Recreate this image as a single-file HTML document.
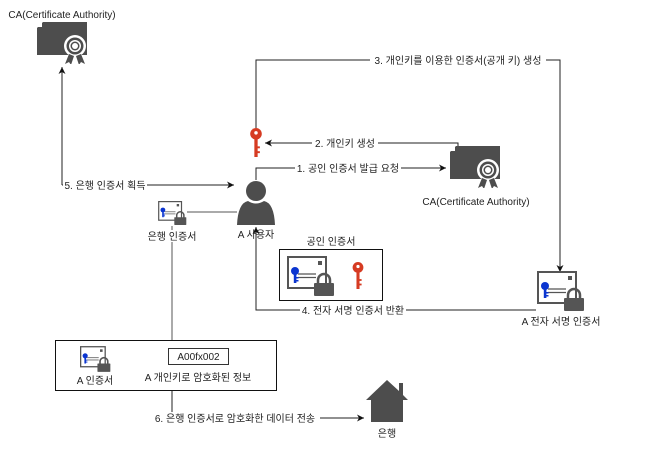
<!DOCTYPE html>
<html><head><meta charset="utf-8"><style>
html,body{margin:0;padding:0;background:#fff;}
svg{display:block;font-family:"Liberation Sans","Noto Sans CJK KR",sans-serif;}
text{font-size:10px;fill:#222;}
.sm{font-size:10px;}
</style></head><body>
<svg width="649" height="452" viewBox="0 0 649 452" xmlns="http://www.w3.org/2000/svg">
<defs>
<symbol id="ca" viewBox="0 0 50 42">
<path d="M6 0 H50 V33 H0 V6 Z" fill="#4d4d4d"/>
<path d="M0 5 L5 0 V5 Z" fill="#fff"/>
<circle cx="38" cy="24" r="11" fill="#fff"/>
<circle cx="38" cy="24" r="8.5" fill="#4d4d4d"/>
<circle cx="38" cy="24" r="6" fill="#fff"/>
<circle cx="38" cy="24" r="4.5" fill="#4d4d4d"/>
<circle cx="38" cy="24" r="3" fill="#fff"/>
<path d="M32 32 L28 42 L32 40 L34 43 L37 34 Z M44 32 L48 42 L44 40 L42 43 L39 34 Z" fill="#4d4d4d"/>
</symbol>
<symbol id="cert" viewBox="0 0 48 40">
<rect x="1" y="1" width="38" height="31" fill="#fff" stroke="#555" stroke-width="2"/>
<rect x="31" y="5" width="4" height="4" fill="#555"/>
<line x1="11" y1="18" x2="29" y2="18" stroke="#555" stroke-width="1.2"/>
<line x1="11" y1="21.5" x2="29" y2="21.5" stroke="#555" stroke-width="1.2"/>
<circle cx="8" cy="15" r="4" fill="#0b35d0"/>
<rect x="6.8" y="17" width="2.6" height="10" fill="#0b35d0"/>
<rect x="9" y="21" width="2.5" height="1.5" fill="#0b35d0"/>
<rect x="9" y="24" width="2.5" height="1.5" fill="#0b35d0"/>
<path d="M31 28 V24 A6 6 0 0 1 43 24 V28" fill="none" stroke="#555" stroke-width="2.5"/>
<rect x="27" y="27" width="20" height="13" rx="1" fill="#555"/>
</symbol>
<symbol id="key" viewBox="0 0 12 30">
<circle cx="6" cy="6" r="6" fill="#d63b22"/>
<circle cx="6" cy="5" r="1.8" fill="#fff"/>
<rect x="4.3" y="10" width="3.4" height="20" fill="#d63b22"/>
<rect x="7" y="19" width="3" height="2" fill="#d63b22"/>
<rect x="7" y="24" width="3" height="2" fill="#d63b22"/>
</symbol>
<marker id="ar" markerWidth="8" markerHeight="8" refX="7" refY="4" orient="auto" markerUnits="userSpaceOnUse">
<path d="M0 0.5 L7 4 L0 7.5 L2 4 Z" fill="#111"/>
</marker>
</defs>

<text x="62" y="18" text-anchor="middle">CA(Certificate Authority)</text>
<use href="#ca" x="37" y="22" width="50" height="42"/>

<path d="M62 185 V67" fill="none" stroke="#222" stroke-width="1" marker-end="url(#ar)"/>
<path d="M62 185 H234" fill="none" stroke="#222" stroke-width="1" marker-end="url(#ar)"/>
<rect x="63" y="179" width="84" height="12" fill="#fff"/>
<text x="105" y="189" class="sm" text-anchor="middle">5. 은행 인증서 획득</text>

<circle cx="256" cy="191" r="10" fill="#4d4d4d"/>
<path d="M237 225 Q238 203 248 201 Q256 206 264 201 Q274 203 275 225 Z" fill="#4d4d4d"/>
<text x="256" y="238" text-anchor="middle">A 사용자</text>

<path d="M256 180 V168 H446" fill="none" stroke="#222" stroke-width="1" marker-end="url(#ar)"/>
<rect x="295" y="162" width="106" height="12" fill="#fff"/>
<text x="348" y="172" class="sm" text-anchor="middle">1. 공인 인증서 발급 요청</text>

<use href="#ca" x="450" y="146" width="50" height="42"/>
<text x="476" y="205" text-anchor="middle">CA(Certificate Authority)</text>

<path d="M458 146 V143 H265" fill="none" stroke="#222" stroke-width="1" marker-end="url(#ar)"/>
<rect x="312" y="137" width="66" height="12" fill="#fff"/>
<text x="345" y="147" class="sm" text-anchor="middle">2. 개인키 생성</text>

<use href="#key" x="250" y="128" width="12" height="29"/>

<path d="M256 128 V60 H560 V272" fill="none" stroke="#222" stroke-width="1" marker-end="url(#ar)"/>
<rect x="370" y="54" width="176" height="12" fill="#fff"/>
<text x="458" y="64" class="sm" text-anchor="middle">3. 개인키를 이용한 인증서(공개 키) 생성</text>

<use href="#cert" x="537" y="271" width="48" height="40"/>
<text x="561" y="325" text-anchor="middle">A 전자 서명 인증서</text>

<path d="M536 310 H256 V227" fill="none" stroke="#222" stroke-width="1" marker-end="url(#ar)"/>
<rect x="300" y="304" width="106" height="12" fill="#fff"/>
<text x="353" y="314" class="sm" text-anchor="middle">4. 전자 서명 인증서 반환</text>

<text x="331" y="245" text-anchor="middle">공인 인증서</text>
<rect x="279.5" y="249.5" width="103" height="51" fill="#fff" stroke="#111" stroke-width="1"/>
<use href="#cert" x="287" y="256" width="48" height="40"/>
<use href="#key" x="352" y="262" width="12" height="27"/>

<use href="#cert" x="158" y="201" width="29" height="24"/>
<line x1="187" y1="212" x2="237" y2="212" stroke="#555" stroke-width="1"/>
<text x="172" y="240" text-anchor="middle">은행 인증서</text>
<line x1="172" y1="226" x2="172" y2="230" stroke="#555"/>
<line x1="172" y1="242" x2="172" y2="340" stroke="#555"/>

<rect x="55.5" y="340.5" width="221" height="50" fill="#fff" stroke="#111" stroke-width="1"/>
<use href="#cert" x="80" y="346" width="31" height="26"/>
<text x="95" y="384" text-anchor="middle">A 인증서</text>
<rect x="168.5" y="348.5" width="60" height="16" fill="#fff" stroke="#333"/>
<text x="198.5" y="360" text-anchor="middle">A00fx002</text>
<text x="198" y="381" text-anchor="middle">A 개인키로 암호화된 정보</text>

<path d="M172 391 V418 H364" fill="none" stroke="#222" stroke-width="1" marker-end="url(#ar)"/>
<rect x="150" y="412" width="170" height="12" fill="#fff"/>
<text x="235" y="422" class="sm" text-anchor="middle">6. 은행 인증서로 암호화한 데이터 전송</text>

<path d="M366 400 L387 380 L399 391 V383 H403 V395 L408 400 H403 V422 H371 V400 Z" fill="#4d4d4d"/>
<text x="387" y="437" text-anchor="middle">은행</text>
</svg>
</body></html>
